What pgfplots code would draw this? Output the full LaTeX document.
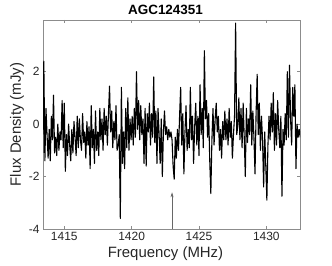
\documentclass[border=0pt]{standalone}
\usepackage{pgfplots}
\pgfplotsset{compat=1.18}
\usepackage{pgfplotstable}
\usetikzlibrary{arrows.meta}
\usepackage{fontspec}
\setmainfont{Liberation Sans}
\definecolor{axgray}{gray}{0.55}
\definecolor{txtgray}{gray}{0.15}
\pgfplotstableread{
f y
1413.40 -1.1
1413.48 2.4
1413.56 -1.4
1413.64 0.6
1413.72 -0.4
1413.80 -1.3
1413.88 -0.2
1413.96 -1.4
1414.04 0.3
1414.12 -0.6
1414.20 1.1
1414.28 -1.1
1414.36 -0.5
1414.44 -1.2
1414.52 0.0
1414.60 -1.0
1414.68 -0.3
1414.76 -0.6
1414.84 0.9
1414.92 -0.9
1415.00 0.8
1415.08 -1.8
1415.16 -0.4
1415.24 -1.2
1415.32 0.0
1415.40 -0.8
1415.48 -1.4
1415.56 -0.2
1415.64 -1.1
1415.72 0.1
1415.80 -0.5
1415.88 -1.2
1415.96 0.3
1416.04 -0.9
1416.12 0.2
1416.20 -0.6
1416.28 -1.0
1416.36 0.4
1416.44 -0.7
1416.52 -0.3
1416.60 -1.3
1416.68 0.1
1416.76 -0.8
1416.84 -0.1
1416.92 -1.7
1417.00 0.7
1417.08 -0.9
1417.16 -0.2
1417.24 -1.5
1417.32 0.5
1417.40 -1.0
1417.48 -0.3
1417.56 -1.2
1417.64 0.6
1417.72 -0.6
1417.80 0.2
1417.88 -1.0
1417.96 0.6
1418.04 -0.4
1418.12 0.3
1418.20 -0.8
1418.28 0.4
1418.36 1.45
1418.44 -0.3
1418.52 0.5
1418.60 -0.9
1418.68 0.1
1418.76 -0.6
1418.84 0.7
1418.92 -1.0
1419.00 -0.8
1419.08 -0.4
1419.16 -3.6
1419.24 1.4
1419.32 -1.5
1419.40 -0.3
1419.48 -1.7
1419.56 0.6
1419.64 -0.9
1419.72 1.0
1419.80 -1.0
1419.88 0.2
1419.96 -0.6
1420.04 0.3
1420.12 -0.8
1420.20 0.6
1420.28 -0.5
1420.36 2.0
1420.44 -0.2
1420.52 0.9
1420.60 -0.6
1420.68 0.7
1420.76 -0.4
1420.84 0.2
1420.92 -1.5
1421.00 0.6
1421.08 -1.6
1421.16 0.4
1421.24 -0.3
1421.32 0.8
1421.40 -0.8
1421.48 0.4
1421.56 -0.5
1421.64 1.8
1421.72 -0.7
1421.80 0.5
1421.88 -1.5
1421.96 0.6
1422.04 -0.4
1422.12 -1.5
1422.20 0.2
1422.28 -2.0
1422.36 -0.3
1422.44 0.5
1422.52 -0.4
1422.60 -0.1
1422.68 -0.6
1422.76 -0.2
1422.84 -0.5
1422.92 -0.3
1423.00 -0.6
1423.08 -1.6
1423.16 -2.1
1423.24 -0.5
1423.32 -1.3
1423.40 -0.2
1423.48 -1.0
1423.56 0.3
1423.64 1.4
1423.72 -0.8
1423.80 0.4
1423.88 -1.9
1423.96 -0.3
1424.04 0.7
1424.12 -1.0
1424.20 -0.2
1424.28 -0.9
1424.36 1.4
1424.44 -0.6
1424.52 0.3
1424.60 -1.5
1424.68 -0.1
1424.76 0.8
1424.84 -0.8
1424.92 0.3
1425.00 -1.2
1425.08 1.5
1425.16 -0.4
1425.24 0.6
1425.32 -0.9
1425.40 2.8
1425.48 0.2
1425.56 0.9
1425.64 -0.5
1425.72 0.4
1425.80 -1.4
1425.88 -2.65
1425.96 -0.6
1426.04 0.6
1426.12 -0.8
1426.20 0.2
1426.28 0.8
1426.36 -0.3
1426.44 0.3
1426.52 -1.0
1426.60 -0.2
1426.68 -1.3
1426.76 0.1
1426.84 -0.6
1426.92 0.5
1427.00 -0.6
1427.08 0.2
1427.16 -0.8
1427.24 0.6
1427.32 -0.5
1427.40 0.1
1427.48 -1.3
1427.56 -0.4
1427.64 0.3
1427.72 3.85
1427.80 -0.4
1427.88 -0.1
1427.96 1.0
1428.04 -0.6
1428.12 0.6
1428.20 -0.9
1428.28 0.8
1428.36 -0.5
1428.44 -2.0
1428.52 0.6
1428.60 -0.7
1428.68 0.2
1428.76 -0.4
1428.84 1.5
1428.92 -0.8
1429.00 0.5
1429.08 -0.5
1429.16 -1.9
1429.24 0.4
1429.32 1.9
1429.40 -0.4
1429.48 0.8
1429.56 -1.0
1429.64 0.3
1429.72 -0.6
1429.80 -2.4
1429.88 -0.3
1429.96 -1.6
1430.04 -2.9
1430.12 -0.8
1430.20 0.3
1430.28 -0.6
1430.36 0.8
1430.44 -0.3
1430.52 1.2
1430.60 -1.0
1430.68 0.4
1430.76 -0.8
1430.84 0.9
1430.92 -0.2
1431.00 -0.9
1431.08 0.3
1431.16 -2.75
1431.24 -0.2
1431.32 -0.8
1431.40 0.4
1431.48 -0.6
1431.56 2.0
1431.64 -0.5
1431.72 2.25
1431.80 0.2
1431.88 -0.8
1431.96 1.4
1432.04 0.3
1432.12 1.5
1432.20 -1.7
1432.28 0.0
1432.36 -0.5
1432.44 -0.2
1432.52 -0.5
}\spectrum
\begin{document}
\begin{tikzpicture}
\path[use as bounding box] (0,0) rectangle (332bp,266bp);
\begin{axis}[
  at={(43bp,37bp)}, anchor=south west,
  scale only axis, width=257bp, height=209bp,
  xmin=1413.42, xmax=1432.5, ymin=-4, ymax=3.97,
  xtick={1415,1420,1425,1430}, ytick={-4,-2,0,2},
  /pgf/number format/assume math mode=true,
  /pgf/number format/1000 sep={},
  tick align=inside, major tick length=3bp,
  tick style={axgray, line width=0.5bp},
  axis line style={axgray, line width=0.6bp},
  ticklabel style={font=\fontsize{12}{14}\selectfont, text=txtgray},
  xlabel={Frequency (MHz)}, ylabel={Flux Density (mJy)},
  label style={font=\fontsize{15}{17}\selectfont, text=txtgray},
  xlabel style={yshift=1bp, xshift=-6bp},
  ylabel style={yshift=-2bp},
  title={\textbf{AGC124351}},
  title style={font=\fontsize{13.5}{15}\selectfont, yshift=-4bp, xshift=-6bp},
  clip=true,
]
\addplot[black, line width=1.1bp, line join=round] table[x=f, y=y] {\spectrum};
\addplot[txtgray!70, line width=0.5bp, -{Stealth[length=5bp,width=3bp]}] coordinates {(1423.0,-4) (1423.0,-2.6)};
\end{axis}
\end{tikzpicture}
\end{document}
